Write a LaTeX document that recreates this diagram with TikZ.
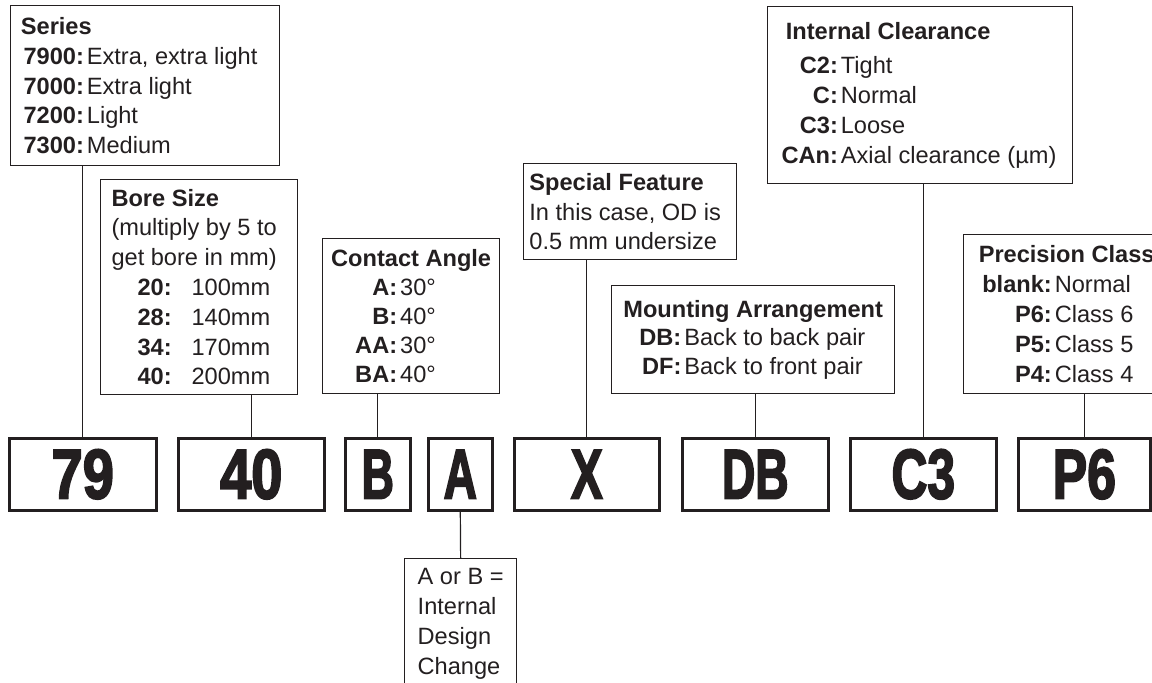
\documentclass[tikz,border=0pt]{standalone}
\usepackage{fontspec}
\usepackage{graphicx}
\setmainfont{Liberation Sans}
\newfontfamily\codefont{Liberation Sans}[FakeBold=3]
\definecolor{ink}{HTML}{231F20}
\newcommand\lab[2]{\makebox[#1][r]{\textbf{#2}}\hspace{1.5pt}}
\newcommand\code[2][0.75]{\scalebox{#1}[1]{\codefont\bfseries\fontsize{35}{35}\selectfont #2}}

\tikzset{
  infobox/.style={draw=ink, line width=0.65pt, anchor=north west, align=left, inner sep=0pt, text=ink, font=\fontsize{11.8}{14.9}\selectfont},
  codebox/.style={draw=ink, line width=1.3pt, anchor=north west, inner sep=0pt, minimum height=36pt, text=ink},
  link/.style={draw=ink, line width=0.6pt}
}

\begin{document}
\begin{tikzpicture}[x=0.5pt, y=-0.5pt]
\useasboundingbox (0,0) rectangle (1152,683);

% what each part of the number means
\node(series)[infobox, minimum width=134.5pt, minimum height=80pt] at (10,5) {\textbf{Series}\\
\lab{31.5pt}{7900:}Extra, extra light\rule{6pt}{0pt}\\
\lab{31.5pt}{7000:}Extra light\\
\lab{31.5pt}{7200:}Light\\
\lab{31.5pt}{7300:}Medium};
\node(bore)[infobox, minimum width=98.5pt, minimum height=107.5pt] at (100,179) {\textbf{Bore Size}\\
(multiply by 5 to\rule{5pt}{0pt}\\
get bore in mm)\\
\hspace*{13pt}\makebox[27pt][l]{\textbf{20:}}100mm\\
\hspace*{13pt}\makebox[27pt][l]{\textbf{28:}}140mm\\
\hspace*{13pt}\makebox[27pt][l]{\textbf{34:}}170mm\\
\hspace*{13pt}\makebox[27pt][l]{\textbf{40:}}200mm};
\node(angle)[infobox, minimum width=88.5pt, minimum height=77.5pt, font=\fontsize{11.8}{14.4}\selectfont] at (322,238) {\textbf{Contact Angle}\\
\lab{33pt}{A:}30°\\
\lab{33pt}{B:}40°\\
\lab{33pt}{AA:}30°\\
\lab{33pt}{BA:}40°};
\node(feature)[infobox, minimum width=106.5pt, minimum height=48pt] at (523,163) {\textbf{Special Feature}\\
In this case, OD is\rule{5pt}{0pt}\\
0.5 mm undersize};
\node(mount)[infobox, minimum width=141.5pt, minimum height=54pt, font=\fontsize{11.8}{14.3}\selectfont] at (611,285) {\textbf{Mounting Arrangement}\\
\lab{29pt}{DB:}Back to back pair\\
\lab{29pt}{DF:}Back to front pair};
\node(clear)[infobox, minimum width=152.5pt, minimum height=88.5pt] at (767,6) {\hspace*{1pt}\textbf{Internal Clearance}\\[2.5pt]
\lab{27pt}{C2:}Tight\\
\lab{27pt}{C:}Normal\\
\lab{27pt}{C3:}Loose\\
\lab{27pt}{CAn:}Axial clearance (µm)};
\node(prec)[infobox, minimum width=103pt, minimum height=79.5pt] at (963,234) {\textbf{Precision Class}\\
\lab{36.5pt}{blank:}Normal\\
\lab{36.5pt}{P6:}Class 6\\
\lab{36.5pt}{P5:}Class 5\\
\lab{36.5pt}{P4:}Class 4};
\node(design)[infobox, minimum width=56pt, minimum height=65pt] at (404,558) {A or B =\\
Internal\\
Design\\
Change};

% the bearing number
\node(c79)[codebox, minimum width=73.5pt] at (8,437) {\code[0.8]{79}};
\node(c40)[codebox, minimum width=73pt] at (177,437) {\code[0.8]{40}};
\node(cB)[codebox, minimum width=32.5pt] at (344,437) {\code[0.64]{B}};
\node(cA)[codebox, minimum width=32pt] at (427,437) {\code[0.66]{A}};
\node(cX)[codebox, minimum width=72.5pt] at (513,437) {\code[0.68]{X}};
\node(cDB)[codebox, minimum width=73pt] at (681,437) {\code[0.66]{DB}};
\node(cC3)[codebox, minimum width=73pt] at (849,437) {\code[0.71]{C3}};
\node(cP6)[codebox, minimum width=66pt] at (1017,437) {\code[0.74]{P6}};

\draw[link] (c79.north) -- (c79.north |- series.south);
\draw[link] (c40.north) -- (c40.north |- bore.south);
\draw[link] (cB.north) -- (cB.north |- angle.south);
\draw[link] (cX.north) -- (cX.north |- feature.south);
\draw[link] (cDB.north) -- (cDB.north |- mount.south);
\draw[link] (cC3.north) -- (cC3.north |- clear.south);
\draw[link] (cP6.north) -- (cP6.north |- prec.south);
\draw[link] (cA.south) -- (design.north);
\end{tikzpicture}
\end{document}
